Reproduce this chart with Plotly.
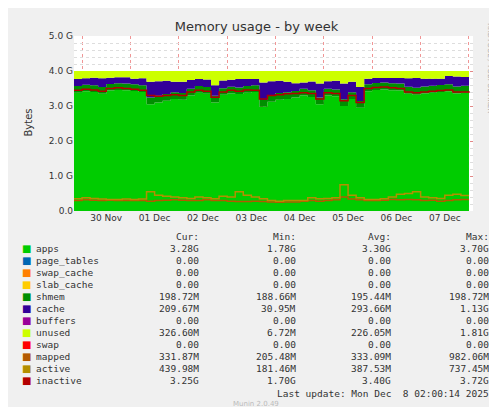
import pandas as pd
import plotly.graph_objects as go

# samples every ~4h from 29 Nov 20:00 to 8 Dec 02:00 (values in GB)
start = "2025-11-29 20:00"
apps = [3.38, 3.42, 3.40, 3.35, 3.44, 3.46, 3.45, 3.43, 3.40, 3.05, 3.10, 3.15,
        3.20, 3.18, 3.30, 3.38, 3.35, 3.10, 3.32, 3.36, 3.34, 3.38, 3.40, 2.98,
        3.12, 3.18, 3.20, 3.24, 3.30, 3.26, 3.05, 3.30, 3.28, 3.00, 3.20, 2.95,
        3.42, 3.46, 3.47, 3.45, 3.44, 3.35, 3.32, 3.36, 3.38, 3.40, 3.42, 3.36,
        3.38, 3.35]
shmem = [0.19, 0.19, 0.19, 0.19, 0.19, 0.19, 0.19, 0.19, 0.19, 0.19, 0.19, 0.19,
         0.19, 0.19, 0.19, 0.19, 0.19, 0.19, 0.19, 0.19, 0.19, 0.19, 0.19, 0.19,
         0.19, 0.19, 0.19, 0.19, 0.19, 0.19, 0.19, 0.19, 0.19, 0.19, 0.19, 0.19,
         0.20, 0.20, 0.20, 0.20, 0.20, 0.20, 0.20, 0.20, 0.20, 0.20, 0.20, 0.20,
         0.20, 0.20]
cache = [0.20, 0.18, 0.22, 0.25, 0.18, 0.17, 0.18, 0.16, 0.20, 0.45, 0.42, 0.38,
         0.30, 0.32, 0.25, 0.20, 0.22, 0.30, 0.22, 0.20, 0.24, 0.20, 0.18, 0.50,
         0.40, 0.35, 0.30, 0.22, 0.18, 0.25, 0.40, 0.22, 0.25, 0.45, 0.30, 0.40,
         0.16, 0.14, 0.13, 0.15, 0.16, 0.24, 0.28, 0.22, 0.20, 0.18, 0.24, 0.28,
         0.25, 0.26]
unused = [0.23, 0.21, 0.19, 0.21, 0.19, 0.18, 0.18, 0.22, 0.21, 0.31, 0.29, 0.28,
          0.31, 0.31, 0.26, 0.23, 0.24, 0.41, 0.27, 0.25, 0.23, 0.23, 0.23, 0.33,
          0.29, 0.28, 0.31, 0.35, 0.33, 0.30, 0.36, 0.29, 0.28, 0.36, 0.31, 0.46,
          0.22, 0.20, 0.20, 0.20, 0.20, 0.21, 0.20, 0.22, 0.22, 0.22, 0.14, 0.16,
          0.17, 0.19]
inactive = [3.45, 3.48, 3.46, 3.42, 3.50, 3.52, 3.50, 3.48, 3.45, 3.30, 3.28, 3.30,
            3.32, 3.30, 3.40, 3.45, 3.42, 3.25, 3.40, 3.45, 3.42, 3.46, 3.45, 3.20,
            3.30, 3.32, 3.35, 3.36, 3.38, 3.36, 3.20, 3.38, 3.36, 3.15, 3.30, 3.10,
            3.50, 3.53, 3.54, 3.52, 3.50, 3.40, 3.38, 3.40, 3.42, 3.44, 3.46, 3.40,
            3.40, 3.38]
mapped = [0.30, 0.32, 0.31, 0.30, 0.31, 0.30, 0.30, 0.30, 0.30, 0.28, 0.30, 0.31,
          0.32, 0.31, 0.30, 0.30, 0.32, 0.30, 0.30, 0.28, 0.27, 0.27, 0.28, 0.27,
          0.26, 0.25, 0.26, 0.26, 0.28, 0.30, 0.28, 0.30, 0.32, 0.40, 0.34, 0.32,
          0.30, 0.30, 0.31, 0.33, 0.32, 0.33, 0.32, 0.30, 0.31, 0.28, 0.30, 0.32,
          0.33, 0.33]
active = [0.35, 0.38, 0.36, 0.34, 0.33, 0.33, 0.34, 0.33, 0.34, 0.55, 0.45, 0.42,
          0.40, 0.38, 0.36, 0.40, 0.38, 0.35, 0.42, 0.40, 0.55, 0.45, 0.40, 0.35,
          0.30, 0.28, 0.30, 0.30, 0.30, 0.38, 0.35, 0.36, 0.38, 0.75, 0.45, 0.38,
          0.33, 0.33, 0.35, 0.40, 0.48, 0.50, 0.55, 0.40, 0.38, 0.36, 0.45, 0.48,
          0.44, 0.44]

legend_rows = [
    ("apps", "#00CC00", "3.28G", "1.78G", "3.30G", "3.70G"),
    ("page_tables", "#0066B3", "0.00", "0.00", "0.00", "0.00"),
    ("swap_cache", "#FF8000", "0.00", "0.00", "0.00", "0.00"),
    ("slab_cache", "#FFCC00", "0.00", "0.00", "0.00", "0.00"),
    ("shmem", "#008F00", "198.72M", "188.66M", "195.44M", "198.72M"),
    ("cache", "#330099", "209.67M", "30.95M", "293.66M", "1.13G"),
    ("buffers", "#990099", "0.00", "0.00", "0.00", "0.00"),
    ("unused", "#CCFF00", "326.60M", "6.72M", "226.05M", "1.81G"),
    ("swap", "#FF0000", "0.00", "0.00", "0.00", "0.00"),
    ("mapped", "#B35A00", "331.87M", "205.48M", "333.09M", "982.06M"),
    ("active", "#B38F00", "439.98M", "181.46M", "387.53M", "737.45M"),
    ("inactive", "#B30000", "3.25G", "1.70G", "3.40G", "3.72G"),
]

x = pd.date_range(start, periods=len(apps), freq="4h")
G = 1e9
fig = go.Figure()
for name, vals, color in [("apps", apps, "#00CC00"), ("shmem", shmem, "#008F00"),
                          ("cache", cache, "#330099"), ("unused", unused, "#CCFF00")]:
    fig.add_trace(go.Scatter(x=x, y=[v * G for v in vals], name=name, stackgroup="m",
                             mode="none", fillcolor=color, line_shape="hv"))
for name, vals, color in [("inactive", inactive, "#B30000"), ("mapped", mapped, "#B35A00"),
                          ("active", active, "#B38F00")]:
    fig.add_trace(go.Scatter(x=x, y=[v * G for v in vals], name=name, mode="lines",
                             line=dict(color=color, width=1.5), line_shape="hv"))

W, H = 497, 407
L, R, T, B = 66, 465, 28, 203


def px(xp):
    return (xp - L) / (R - L)


def py(yp):
    return (B - yp) / (B - T)


ann = []
mono = dict(family="DejaVu Sans Mono", size=9.5, color="#333")
cols = [193, 290, 385, 483]
for col, head in zip(cols, ["Cur:", "Min:", "Avg:", "Max:"]):
    ann.append(dict(x=px(col), y=py(228), text=head, xanchor="right", font=mono))
for i, (name, color, *vals) in enumerate(legend_rows):
    yy = py(240 + 12 * i)
    ann.append(dict(x=px(26), y=yy, text=name, xanchor="left", font=mono))
    ann.append(dict(x=px(12), y=yy, text="■", xanchor="left",
                    font=dict(family="DejaVu Sans", size=10, color=color)))
    for col, v in zip(cols, vals):
        ann.append(dict(x=px(col), y=yy, text=v, xanchor="right", font=mono))
ann.append(dict(x=px(483), y=py(385), text="Last update: Mon Dec  8 02:00:14 2025",
                xanchor="right", font=mono))
ann.append(dict(x=px(248), y=py(396), text="Munin 2.0.49", xanchor="center",
                font=dict(family="DejaVu Sans", size=7, color="#bbb")))
ann.append(dict(x=px(488), y=py(60), text="RRDTOOL / TOBI OETIKER", textangle=90,
                font=dict(family="DejaVu Sans", size=7, color="#aaa")))
ann.append(dict(x=px(12), y=py(115), text="Bytes", textangle=-90,
                font=dict(family="DejaVu Sans", size=10, color="#333")))
for a in ann:
    a.update(xref="paper", yref="paper", showarrow=False, yanchor="middle")

days = pd.date_range("2025-11-30 12:00", periods=8, freq="D")
fig.update_layout(
    width=W, height=H, showlegend=False, annotations=ann,
    paper_bgcolor="#F0F0F0", plot_bgcolor="white",
    margin=dict(l=L, r=W - R, t=T, b=H - B, autoexpand=False),
    title=dict(text="Memory usage - by week", x=0.5, y=1 - 18 / H, xanchor="center",
               yanchor="middle", font=dict(family="DejaVu Sans", size=13, color="#333")),
    xaxis=dict(range=[x[0], pd.Timestamp("2025-12-08 02:00")], tickvals=days,
               ticktext=[d.strftime("%d %b") for d in days], showgrid=False,
               automargin=False, ticks="",
               tickfont=dict(family="DejaVu Sans", size=9, color="#333"),
               minor=dict(dtick=86400000, tick0="2025-11-30", showgrid=True,
                          gridcolor="rgba(230,80,80,0.6)", griddash="dot"),
               showline=False, zeroline=False),
    yaxis=dict(range=[0, 5 * G], tickvals=[i * G for i in range(6)],
               ticktext=["0.0", "1.0 G", "2.0 G", "3.0 G", "4.0 G", "5.0 G"],
               automargin=False, gridcolor="rgba(230,80,80,0.6)", griddash="dot",
               ticks="", tickfont=dict(family="DejaVu Sans", size=9, color="#333"),
               minor=dict(dtick=0.2 * G, showgrid=True, gridcolor="#ddd", griddash="dot"),
               zeroline=False),
)
fig.write_html("out.html")
